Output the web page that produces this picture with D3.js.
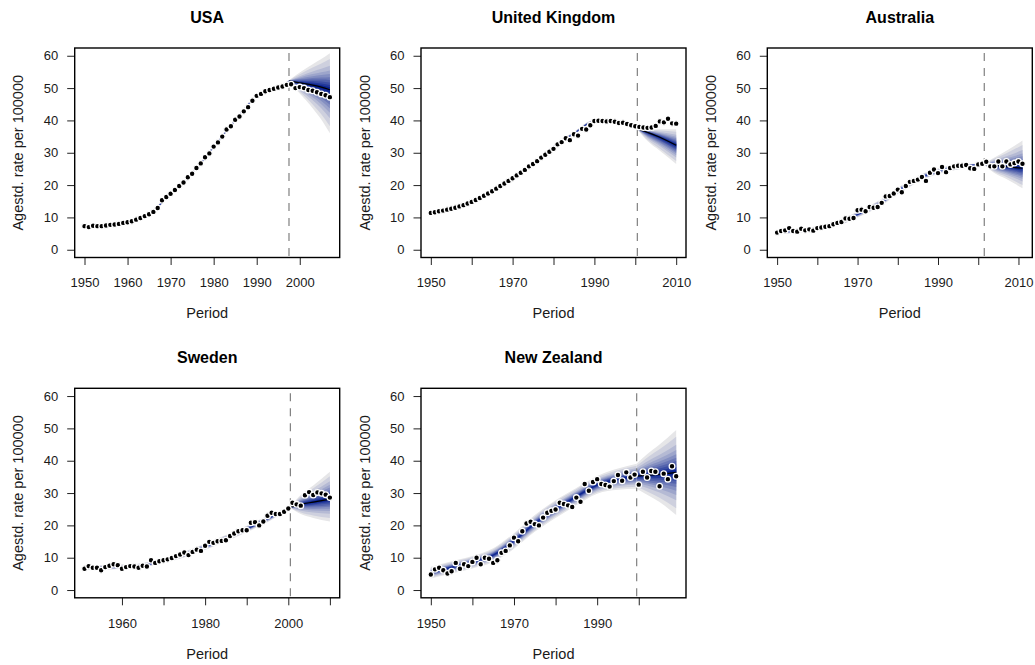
<!DOCTYPE html>
<html>
<head>
<meta charset="utf-8">
<script src="https://cdn.jsdelivr.net/npm/d3@7"></script>
<style>
  body { margin: 0; background: #fff; }
  svg { display: block; font-family: "Liberation Sans", Arial, Helvetica, sans-serif; }
</style>
</head>
<body>
<svg id="chart" width="1035" height="665"></svg>
<script>
// observed age-standardised rates, one value per year from the start year
var usaStart = 1950;
var usaRates = [7.3, 7.0, 7.4, 7.3, 7.3, 7.5, 7.7, 7.8, 8.0, 8.3,
    8.5, 8.8, 9.3, 9.8, 10.4, 11.0, 11.7, 12.9, 15.3, 16.3,
    17.3, 18.5, 19.7, 20.8, 22.4, 23.5, 25.3, 26.7, 28.6, 29.8,
    31.9, 33.2, 35.0, 37.2, 38.2, 40.2, 41.2, 42.8, 44.1, 46.1,
    47.6, 48.2, 49.0, 49.4, 49.8, 50.2, 50.5, 51.0, 51.2, 50.0,
    50.3, 50.0, 49.4, 49.2, 48.7, 48.2, 47.8, 47.2];
var ukStart = 1950;
var ukRates = [11.4, 11.6, 11.9, 12.1, 12.4, 12.7, 13.0, 13.4, 13.8, 14.3,
    14.8, 15.4, 16.0, 16.7, 17.4, 18.1, 18.9, 19.7, 20.5, 21.3,
    22.1, 23.0, 23.8, 24.7, 25.8, 26.5, 27.4, 28.5, 29.4, 30.3,
    31.2, 32.6, 33.3, 34.5, 33.9, 35.7, 35.3, 37.4, 37.2, 38.5,
    39.8, 39.9, 39.8, 39.7, 39.8, 39.6, 39.2, 39.3, 38.9, 38.5,
    38.2, 38.0, 37.8, 37.7, 37.8, 38.3, 39.7, 39.4, 40.5, 39.1, 39.0];
var ausStart = 1950;
var ausRates = [5.3, 5.8, 6.0, 6.7, 5.8, 5.6, 6.5, 6.0, 6.3, 5.9,
    6.7, 6.9, 7.1, 7.3, 7.9, 8.3, 8.6, 9.7, 9.6, 9.8,
    12.2, 12.4, 11.9, 13.2, 13.0, 13.2, 14.5, 16.5, 16.6, 17.4,
    18.6, 17.8, 19.7, 21.0, 21.3, 21.7, 22.5, 21.3, 23.8, 24.8,
    23.7, 25.6, 24.0, 25.3, 25.8, 26.0, 26.0, 26.2, 25.2, 25.0,
    26.4, 26.6, 27.2, 25.8, 25.8, 27.3, 25.8, 27.3, 26.4, 26.8,
    27.3, 26.6];
var sweStart = 1951;
var sweRates = [6.6, 7.4, 6.9, 6.9, 6.1, 7.1, 7.5, 8.0, 7.7,
    6.6, 7.1, 7.4, 7.3, 6.9, 7.5, 7.3, 9.2, 8.4, 8.9,
    9.2, 9.5, 9.9, 10.5, 11.0, 11.6, 10.8, 11.8, 12.5, 12.1,
    13.7, 14.9, 14.6, 15.1, 15.2, 15.4, 16.7, 17.5, 18.2, 18.5,
    18.5, 20.8, 21.0, 20.0, 21.2, 23.0, 23.9, 23.5, 23.5, 24.2,
    25.2, 27.0, 26.5, 26.1, 29.3, 30.3, 29.4, 30.2, 29.9, 29.5,
    28.6];
var nzStart = 1950;
var nzRates = [4.8, 6.4, 6.9, 6.1, 5.1, 5.8, 8.4, 6.6, 8.0, 7.4,
    8.7, 10.0, 8.0, 10.0, 9.7, 8.4, 9.2, 11.5, 12.1, 13.8,
    16.2, 15.1, 18.2, 20.6, 21.1, 20.4, 20.0, 22.4, 23.9, 24.5,
    24.9, 27.0, 26.6, 26.2, 25.7, 28.6, 27.3, 32.8, 30.7, 33.4,
    34.3, 32.8, 32.5, 32.0, 33.7, 35.6, 33.8, 36.4, 34.8, 35.7,
    32.6, 36.6, 34.8, 36.8, 36.6, 32.1, 36.0, 34.3, 38.3, 35.2];

// fitted + projected fan: knot years, median and outer limits
var usaFanYears = [1950, 1955, 1960, 1965, 1970, 1975, 1980, 1985, 1990, 1995, 1997.5, 2000, 2003, 2005, 2007];
var usaFanMid = [7.2, 7.5, 8.5, 11.0, 17.3, 23.6, 31.8, 40.0, 47.5, 50.3, 52.2, 51.6, 50.9, 50.3, 49.5];
var usaFanLo = [6.8, 7.1, 8.1, 10.6, 16.8, 23.1, 31.3, 39.5, 47.0, 49.8, 52.0, 48.3, 43.8, 40.3, 36.0];
var usaFanHi = [7.6, 7.9, 8.9, 11.4, 17.8, 24.1, 32.3, 40.5, 48.0, 50.8, 52.4, 54.8, 57.4, 59.0, 60.8];
var ukFanYears = [1950, 1960, 1970, 1975, 1980, 1985, 1990, 1995, 2000.5, 2003, 2006, 2010];
var ukFanMid = [11.3, 14.7, 22.3, 26.8, 31.8, 36.0, 39.6, 39.6, 37.4, 36.3, 34.8, 32.3];
var ukFanLo = [10.9, 14.3, 21.8, 26.3, 31.3, 35.5, 39.1, 39.1, 37.2, 33.6, 30.6, 26.5];
var ukFanHi = [11.7, 15.1, 22.8, 27.3, 32.3, 36.5, 40.1, 40.1, 37.6, 37.3, 37.3, 37.3];
var ausFanYears = [1950, 1955, 1960, 1965, 1970, 1975, 1980, 1985, 1990, 1995, 2001.5, 2004, 2007, 2011];
var ausFanMid = [5.4, 5.9, 6.6, 8.1, 10.9, 14.0, 18.2, 21.9, 24.3, 25.6, 26.5, 26.1, 25.7, 25.2];
var ausFanLo = [4.7, 5.2, 5.9, 7.3, 10.0, 13.0, 17.2, 20.9, 23.4, 24.8, 26.3, 23.7, 21.9, 19.0];
var ausFanHi = [6.1, 6.6, 7.3, 8.9, 11.8, 15.0, 19.2, 22.9, 25.2, 26.4, 26.7, 28.5, 30.6, 33.8];
var sweFanYears = [1951, 1960, 1965, 1970, 1975, 1980, 1985, 1990, 1995, 2000.5, 2003, 2006, 2010];
var sweFanMid = [6.9, 7.2, 7.7, 9.1, 11.0, 13.4, 16.0, 18.9, 22.0, 25.6, 26.5, 27.2, 28.1];
var sweFanLo = [6.2, 6.5, 7.0, 8.3, 10.1, 12.4, 15.0, 17.9, 21.0, 25.4, 23.5, 22.3, 21.2];
var sweFanHi = [7.6, 7.9, 8.4, 9.9, 11.9, 14.4, 17.0, 19.9, 23.0, 25.8, 29.4, 32.3, 36.6];
var nzFanYears = [1950, 1955, 1960, 1965, 1970, 1975, 1980, 1985, 1990, 1995, 1999.5, 2002, 2005, 2009];
var nzFanMid = [5.4, 7.0, 8.6, 10.8, 15.2, 20.6, 25.0, 28.9, 32.5, 34.3, 35.2, 35.5, 35.8, 36.4];
var nzFanLo = [3.6, 5.1, 6.7, 8.7, 12.8, 18.0, 22.3, 26.2, 29.8, 31.0, 31.3, 29.5, 27.2, 23.2];
var nzFanHi = [7.2, 8.9, 10.5, 12.9, 17.6, 23.2, 27.8, 31.6, 35.3, 37.6, 39.1, 42.0, 45.0, 49.5];

// tick values and labels
var yTicks = [0, 10, 20, 30, 40, 50, 60];
var usaTicks = [1950, 1960, 1970, 1980, 1990, 2000];
var usaTickLabels = ["1950", "1960", "1970", "1980", "1990", "2000"];
var ukTicks = [1950, 1960, 1970, 1980, 1990, 2000, 2010];
var ukTickLabels = ["1950", "", "1970", "", "1990", "", "2010"];
var sweTicks = [1960, 1970, 1980, 1990, 2000, 2010];
var sweTickLabels = ["1960", "", "1980", "", "2000", ""];
var nzTicks = [1950, 1960, 1970, 1980, 1990, 2000];
var nzTickLabels = ["1950", "", "1970", "", "1990", ""];

// central coverage levels of the fan bands, as normal quantiles (outer first)
var fanLevels = [1.96, 1.645, 1.282, 1.036, 0.842, 0.674, 0.524, 0.385, 0.253, 0.126];

var panels = [
    {name: "USA", start: usaStart, rates: usaRates, cut: 1997.5, fy: usaFanYears, fm: usaFanMid, fl: usaFanLo, fh: usaFanHi, ticks: usaTicks, labels: usaTickLabels, col: 0, row: 0},
    {name: "United Kingdom", start: ukStart, rates: ukRates, cut: 2000.5, fy: ukFanYears, fm: ukFanMid, fl: ukFanLo, fh: ukFanHi, ticks: ukTicks, labels: ukTickLabels, col: 1, row: 0},
    {name: "Australia", start: ausStart, rates: ausRates, cut: 2001.5, fy: ausFanYears, fm: ausFanMid, fl: ausFanLo, fh: ausFanHi, ticks: ukTicks, labels: ukTickLabels, col: 2, row: 0},
    {name: "Sweden", start: sweStart, rates: sweRates, cut: 2000.5, fy: sweFanYears, fm: sweFanMid, fl: sweFanLo, fh: sweFanHi, ticks: sweTicks, labels: sweTickLabels, col: 0, row: 1},
    {name: "New Zealand", start: nzStart, rates: nzRates, cut: 1999.5, fy: nzFanYears, fm: nzFanMid, fl: nzFanLo, fh: nzFanHi, ticks: nzTicks, labels: nzTickLabels, col: 1, row: 1}
];

var colLeft = [74.7, 421, 767.3];
var rowTop = [48, 388.3];
var pw = 265, ph = 209.5;
var fanColor = d3.interpolateRgb("#e6e6e8", "#0a2290");

var svg = d3.select("#chart");

panels.forEach(function(p) {
    var pts = p.rates.map(function(v, i) { return {yr: p.start + i, v: v}; });
    var x0 = d3.min(pts, function(d) { return d.yr; });
    var x1 = d3.max(pts, function(d) { return d.yr; });
    var ext = (x1 - x0) * 0.04;
    var x = d3.scaleLinear().domain([x0 - ext, x1 + ext]).range([0, pw]);
    var y = d3.scaleLinear().domain([-2.4, 62.4]).range([ph, 0]);

    var g = svg.append("g")
        .attr("transform", "translate(" + colLeft[p.col] + "," + rowTop[p.row] + ")");

    var rows = p.fy.map(function(yr, i) {
        return {yr: yr, mid: p.fm[i], lo: p.fl[i], hi: p.fh[i]};
    });
    var fitted = rows.filter(function(d) { return d.yr <= p.cut; });
    var proj = rows.filter(function(d) { return d.yr >= p.cut; });

    [fitted, proj].forEach(function(seg) {
        fanLevels.forEach(function(z, k) {
            var f = z / fanLevels[0];
            var area = d3.area()
                .curve(d3.curveMonotoneX)
                .x(function(d) { return x(d.yr); })
                .y0(function(d) { return y(d.mid - (d.mid - d.lo) * f); })
                .y1(function(d) { return y(d.mid + (d.hi - d.mid) * f); });
            g.append("path")
                .datum(seg)
                .attr("d", area)
                .attr("fill", fanColor(k / (fanLevels.length - 1)));
        });
    });

    g.append("path")
        .datum(proj)
        .attr("d", d3.line().curve(d3.curveMonotoneX)
            .x(function(d) { return x(d.yr); })
            .y(function(d) { return y(d.mid); }))
        .attr("fill", "none")
        .attr("stroke", "#000")
        .attr("stroke-width", 1.2);

    g.append("line")
        .attr("x1", x(p.cut)).attr("x2", x(p.cut))
        .attr("y1", 0).attr("y2", ph)
        .attr("stroke", "#808080")
        .attr("stroke-width", 1.2)
        .attr("stroke-dasharray", "8,7")
        .attr("stroke-dashoffset", 10);

    g.selectAll(".pt")
        .data(pts)
        .enter().append("circle")
        .attr("class", "pt")
        .attr("cx", function(d) { return x(d.yr); })
        .attr("cy", function(d) { return y(d.v); })
        .attr("r", 2.85)
        .attr("fill", "#000")
        .attr("stroke", "#fff")
        .attr("stroke-width", 1.3);

    // axes
    var yAxis = g.append("g").call(d3.axisLeft(y).tickValues(yTicks).tickSize(7.5).tickPadding(9));
    var xAxis = g.append("g")
        .attr("transform", "translate(0," + ph + ")")
        .call(d3.axisBottom(x).tickValues(p.ticks).tickSize(7.5).tickPadding(13)
            .tickFormat(function(d, i) { return p.labels[i]; }));
    [yAxis, xAxis].forEach(function(a) {
        a.select(".domain").remove();
        a.selectAll("line").attr("stroke", "#222");
        a.selectAll("text").style("font-size", "13px").attr("fill", "#1a1a1a")
            .style("font-family", "'Liberation Sans', Arial, Helvetica, sans-serif");
    });

    g.append("rect")
        .attr("width", pw).attr("height", ph)
        .attr("fill", "none")
        .attr("stroke", "#000")
        .attr("stroke-width", 1.4);

    g.append("text")
        .attr("x", pw / 2).attr("y", -25.3)
        .attr("text-anchor", "middle")
        .style("font-size", "16px")
        .style("font-weight", "bold")
        .text(p.name);

    g.append("text")
        .attr("x", pw / 2).attr("y", ph + 55.8)
        .attr("dy", "0.35em")
        .attr("text-anchor", "middle")
        .style("font-size", "14.5px")
        .attr("fill", "#1a1a1a")
        .text("Period");

    g.append("text")
        .attr("transform", "translate(-56.4," + (ph / 2) + ") rotate(-90)")
        .attr("dy", "0.35em")
        .attr("text-anchor", "middle")
        .style("font-size", "14.5px")
        .attr("fill", "#1a1a1a")
        .text("Agestd. rate per 100000");
});
</script>
</body>
</html>
